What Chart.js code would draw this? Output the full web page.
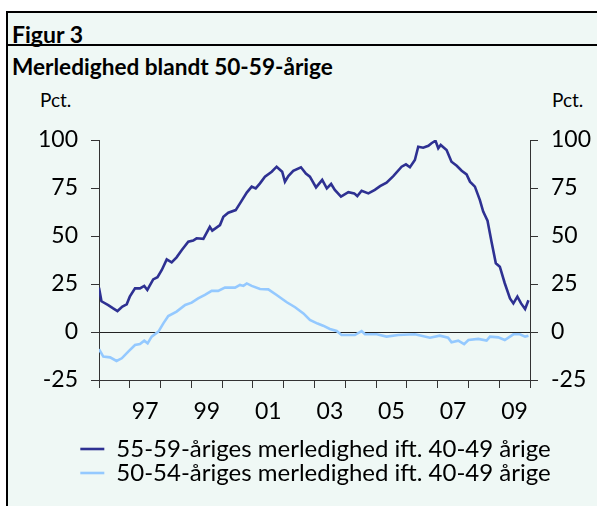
<!DOCTYPE html>
<html>
<head>
<meta charset="utf-8">
<script src="https://cdn.jsdelivr.net/npm/chart.js@4/dist/chart.umd.min.js"></script>
<style>
  html, body { margin: 0; padding: 0; background: #fff; }
  body { width: 597px; height: 506px; position: relative; overflow: hidden; font-family: Lato, sans-serif; }
  .frame { position: absolute; left: 6px; top: 11px; width: 600px; height: 500px;
    border-left: 2px solid #000; border-top: 2px solid #000; background: #eff8f5; }
  .sep { position: absolute; left: 8px; top: 44px; width: 600px; height: 2px; background: #000; }
  .txt { position: absolute; color: #000; white-space: nowrap; line-height: 1; }
  #fig { left: 12px; top: 23px; font-size: 23px; font-weight: bold; }
  #title { left: 12px; top: 56px; font-size: 22.6px; font-weight: bold; }
  .pct { top: 90px; font-size: 19px; }
  #pctL { left: 40px; }
  #pctR { left: 552px; }
  canvas { position: absolute; left: 0; top: 0; }
</style>
</head>
<body>
<div class="frame"></div>
<div class="sep"></div>
<div class="txt" id="fig">Figur 3</div>
<div class="txt" id="title">Merledighed blandt 50-59-årige</div>
<div class="txt pct" id="pctL">Pct.</div>
<div class="txt pct" id="pctR">Pct.</div>
<canvas id="c" width="597" height="506"></canvas>
<script>
/* global Chart */
const seriesNames = [
  '55-59-åriges merledighed ift. 40-49 årige',
  '50-54-åriges merledighed ift. 40-49 årige',
];

// 55-59 relative to 40-49 (dark)
const darkYears = [
  1996.00, 1996.08, 1996.30, 1996.46, 1996.60, 1996.76, 1996.90, 1997.00, 1997.17, 1997.33,
  1997.47, 1997.57, 1997.76, 1997.90, 1998.04, 1998.20, 1998.36, 1998.52, 1998.69, 1998.90,
  1999.06, 1999.17, 1999.39, 1999.60, 1999.68, 1999.93, 2000.04, 2000.20, 2000.44, 2000.58,
  2000.80, 2000.96, 2001.09, 2001.23, 2001.39, 2001.61, 2001.77, 2001.95, 2002.04, 2002.15,
  2002.31, 2002.56, 2002.72, 2002.85, 2003.05, 2003.25, 2003.40, 2003.54, 2003.66, 2003.86,
  2004.10, 2004.29, 2004.39, 2004.53, 2004.75, 2004.96, 2005.13, 2005.34, 2005.56, 2005.83,
  2005.97, 2006.10, 2006.26, 2006.37, 2006.53, 2006.70, 2006.80, 2006.93, 2007.02, 2007.10,
  2007.29, 2007.45, 2007.62, 2007.78, 2007.94, 2008.05, 2008.21, 2008.37, 2008.48, 2008.62,
  2008.75, 2008.89, 2009.02, 2009.18, 2009.35, 2009.46, 2009.59, 2009.71, 2009.84, 2009.95,
];
const darkValues = [
  23, 16, 14, 12.3, 10.9, 13.2, 14.4, 18.4, 22.7, 22.7,
  24, 21.9, 27.4, 28.5, 32.3, 37.8, 36.3, 38.9, 42.7, 47,
  47.6, 48.8, 48.5, 54.8, 52.8, 55.7, 60, 62.1, 63.5, 67,
  72.6, 75.7, 74.8, 77.4, 80.9, 83.5, 86.1, 83.5, 78.3, 81.2,
  83.9, 85.8, 82.5, 80.9, 75.3, 79.2, 74.8, 77.1, 74, 70.5,
  72.8, 72.2, 70.8, 73.6, 72.2, 74, 76, 77.8, 81.2, 86.1,
  87.3, 85.8, 89.6, 96.5, 96, 97, 98.3, 99.6, 95.7, 97.4,
  94.8, 88.7, 86.6, 84, 82.1, 78.3, 75.7, 68.8, 62.7, 58,
  47, 35.8, 34, 25.4, 17.5, 14.9, 18.4, 14.9, 12, 16.5,
];

// 50-54 relative to 40-49 (light)
const lightYears = [
  1996.00, 1996.14, 1996.36, 1996.57, 1996.74, 1996.95, 1997.17, 1997.33, 1997.47, 1997.58,
  1997.71, 1997.93, 1998.09, 1998.25, 1998.52, 1998.80, 1999.01, 1999.22, 1999.44, 1999.66,
  1999.87, 2000.09, 2000.42, 2000.58, 2000.69, 2000.80, 2000.96, 2001.23, 2001.50, 2001.77,
  2002.10, 2002.37, 2002.64, 2002.85, 2003.10, 2003.28, 2003.50, 2003.72, 2003.88, 2004.31,
  2004.53, 2004.64, 2005.02, 2005.34, 2005.72, 2006.26, 2006.75, 2007.07, 2007.34, 2007.45,
  2007.67, 2007.86, 2008.00, 2008.32, 2008.59, 2008.70, 2008.97, 2009.18, 2009.46, 2009.67,
  2009.84, 2009.95,
];
const lightValues = [
  -9, -12.8, -13.2, -15.1, -13.7, -10.2, -6.8, -6.3, -4.5, -5.9,
  -2.4, 0.2, 4.5, 8.3, 10.6, 14.1, 15.3, 17.5, 19.3, 21.4,
  21.4, 23.1, 23.1, 24.5, 24, 25.3, 24, 22.4, 22.2, 19.3,
  15.5, 12.9, 9.7, 6.3, 4.4, 3.3, 1.6, 0.5, -1.6, -1.6,
  0.5, -1.2, -1.2, -2.4, -1.6, -1.2, -3, -1.9, -3, -5.4,
  -4.5, -6.3, -4.2, -3.6, -4.5, -2.4, -2.8, -4.2, -1.2, -1.2,
  -2.4, -1.9,
];

// x axis: tick marks at year boundaries, labels mid-year on odd years
const yearTicks = [1996, 1997, 1998, 1999, 2000, 2001, 2002, 2003, 2004, 2005, 2006, 2007, 2008, 2009, 2010];
const labelYears = [1997, 1999, 2001, 2003, 2005, 2007, 2009];
const yTicks = [-25, 0, 25, 50, 75, 100];

const toPoints = (xs, ys) => xs.map((x, i) => ({ x, y: ys[i] }));

const axisColor = '#333';
const tickFont = { family: 'Lato', size: 23 };

new Chart(document.getElementById('c'), {
  type: 'line',
  data: {
    datasets: [
      {
        label: seriesNames[0],
        data: toPoints(darkYears, darkValues),
        borderColor: '#2e3192',
        backgroundColor: '#2e3192',
        borderWidth: 2.6,
        pointRadius: 0,
        tension: 0,
        yAxisID: 'y',
      },
      {
        label: seriesNames[1],
        data: toPoints(lightYears, lightValues),
        borderColor: '#94c9ff',
        backgroundColor: '#94c9ff',
        borderWidth: 2.6,
        pointRadius: 0,
        tension: 0,
        yAxisID: 'y',
      },
    ],
  },
  options: {
    animation: false,
    responsive: false,
    layout: { padding: { top: 140, left: 34, right: 0, bottom: 11 } },
    scales: {
      x: {
        type: 'linear',
        min: 1996,
        max: 2010,
        afterBuildTicks: (scale) => {
          const vals = yearTicks.concat(labelYears.map((y) => y + 0.5));
          scale.ticks = vals.sort((a, b) => a - b).map((v) => ({ value: v }));
        },
        afterFit: (scale) => { scale.height = 57; },
        border: { display: true, color: axisColor, width: 1 },
        grid: {
          drawOnChartArea: false,
          tickLength: 8,
          tickColor: (ctx) => (Number.isInteger(ctx.tick.value) ? axisColor : 'rgba(0,0,0,0)'),
        },
        ticks: {
          autoSkip: false,
          maxRotation: 0,
          padding: 10,
          color: '#000',
          font: tickFont,
          callback: (v) => (Number.isInteger(v) ? '' : String(Math.floor(v) % 100).padStart(2, '0')),
        },
      },
      y: {
        position: 'left',
        min: -25,
        max: 100,
        afterBuildTicks: (scale) => { scale.ticks = yTicks.map((v) => ({ value: v })); },
        afterFit: (scale) => { scale.width = 65; },
        border: { display: true, color: axisColor, width: 1 },
        grid: {
          color: (ctx) => (ctx.tick && ctx.tick.value === 0 ? '#222' : 'rgba(0,0,0,0)'),
          tickColor: axisColor,
          tickLength: 8,
        },
        ticks: { padding: 13, color: '#000', font: tickFont },
      },
      y2: {
        position: 'right',
        min: -25,
        max: 100,
        afterBuildTicks: (scale) => { scale.ticks = yTicks.map((v) => ({ value: v })); },
        afterFit: (scale) => { scale.width = 67; },
        border: { display: true, color: axisColor, width: 1 },
        grid: { drawOnChartArea: false, tickColor: axisColor, tickLength: 8 },
        ticks: { padding: 13, color: '#000', font: tickFont },
      },
    },
    plugins: {
      legend: {
        position: 'bottom',
        labels: {
          color: '#000',
          font: { family: 'Lato', size: 24 },
          usePointStyle: true,
          pointStyle: 'line',
          pointStyleWidth: 24,
          padding: 0,
        },
      },
      tooltip: { enabled: false },
    },
  },
});
</script>
</body>
</html>
